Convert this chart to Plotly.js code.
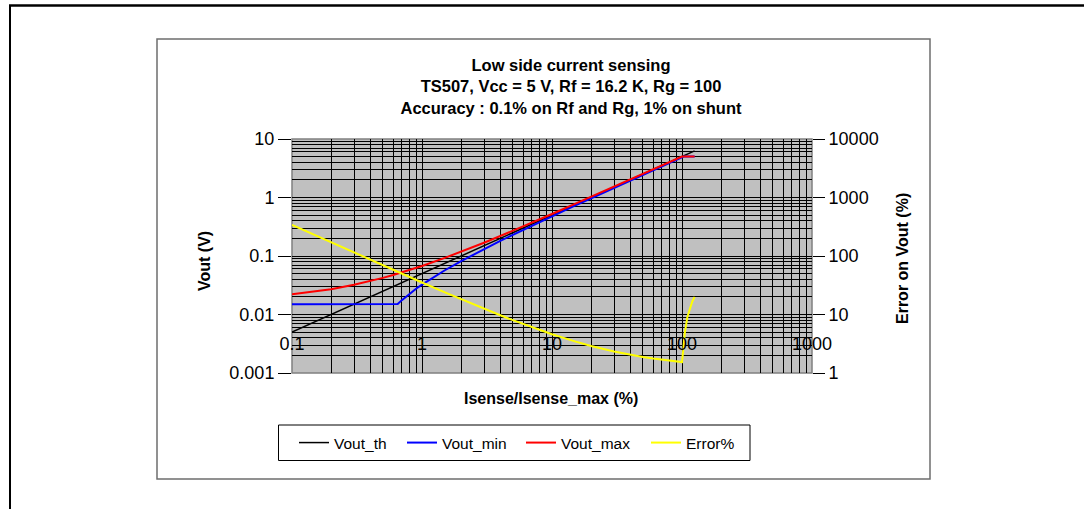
<!DOCTYPE html>
<html>
<head>
<meta charset="utf-8">
<script src="https://cdn.plot.ly/plotly-3.0.1.min.js"></script>
<style>
  html, body { margin: 0; padding: 0; background: #ffffff; }
  #chart { width: 1084px; height: 509px; }
</style>
</head>
<body>
<div id="chart"></div>
<script>
// Sense current as a percentage of full scale
const isense = [0.1, 0.2, 0.3, 0.4, 0.5, 0.6, 0.65, 0.7, 0.8, 0.9, 1, 1.5, 2, 3, 4, 5, 6, 7, 8, 9, 10,
                15, 20, 30, 40, 50, 60, 70, 80, 90, 100, 103, 105, 110, 115, 120, 125];

// Theoretical output voltage (V)
const voutTh = [0.005, 0.01, 0.015, 0.02, 0.025, 0.03, 0.0325, 0.035, 0.04, 0.045, 0.05, 0.075, 0.1, 0.15, 0.2, 0.25, 0.3, 0.35, 0.4, 0.45, 0.5,
                0.75, 1.0, 1.5, 2.0, 2.5, 3.0, 3.5, 4.0, 4.5, 5.0, 5.15, 5.25, 5.5, 5.75, 6.0, 6.25];

// Worst-case low output voltage (V)
const voutMin = [0.015, 0.015, 0.015, 0.015, 0.015, 0.015, 0.0151, 0.0176, 0.0225, 0.0275, 0.0324, 0.0571, 0.0818, 0.1312, 0.1806, 0.230, 0.2794, 0.3288, 0.3782, 0.4276, 0.477,
                 0.724, 0.971, 1.465, 1.959, 2.453, 2.947, 3.441, 3.935, 4.429, 4.923, 5.0, 5.0, 5.0, 5.0, 5.0, 5.0];

// Worst-case high output voltage (V)
const voutMax = [0.0221, 0.0271, 0.0322, 0.0372, 0.0423, 0.0474, 0.0499, 0.0524, 0.0575, 0.0625, 0.0676, 0.0929, 0.1182, 0.1688, 0.2194, 0.270, 0.3206, 0.3712, 0.4218, 0.4724, 0.523,
                 0.776, 1.029, 1.535, 2.041, 2.547, 3.053, 3.559, 4.065, 4.571, 5.0, 5.0, 5.0, 5.0, 5.0, 5.0, 5.0];

// Relative error on the output voltage (%)
const errorPct = [341, 171, 114.5, 86.2, 69.2, 57.9, 53.5, 49.8, 43.7, 39.0, 35.2, 23.9, 18.2, 12.5, 9.7, 8.0, 6.87, 6.06, 5.45, 4.98, 4.6,
                  3.47, 2.9, 2.33, 2.05, 1.88, 1.77, 1.69, 1.63, 1.58, 1.54, 2.91, 4.76, 9.09, 13.0, 16.7, 20.0];

const seriesNames = ['Vout_th', 'Vout_min', 'Vout_max', 'Error%'];

// Axis ticks
const xTickVals = [0.1, 1, 10, 100, 1000];
const xTickText = ['0.1', '1', '10', '100', '1000'];
const yTickVals = [0.001, 0.01, 0.1, 1, 10];
const yTickText = ['0.001', '0.01', '0.1', '1', '10'];
const y2TickVals = [1, 10, 100, 1000, 10000];
const y2TickText = ['1', '10', '100', '1000', '10000'];

const titleLines = ['Low side current sensing', 'TS507, Vcc = 5 V, Rf = 16.2 K, Rg = 100', 'Accuracy : 0.1% on Rf and Rg, 1% on shunt'];
const xTitle = 'Isense/Isense_max (%)';
const yTitle = 'Vout (V)';
const y2Title = 'Error on Vout (%)';

// ---- geometry (pixels) ----
const W = 1084, H = 509;
const M = { l: 292, r: 272, t: 139, b: 136 };
const plotW = W - M.l - M.r;
const plotH = H - M.t - M.b;
const px2x = px => (px - M.l) / plotW;
const px2y = py => (H - M.b - py) / plotH;

const FONT = 'Liberation Sans, Arial, Helvetica, sans-serif';

const traces = [
  { x: isense, y: voutTh, name: seriesNames[0], mode: 'lines', line: { color: '#000000', width: 1.5 }, legendwidth: 63 },
  { x: isense, y: voutMin, name: seriesNames[1], mode: 'lines', line: { color: '#0000ff', width: 2 }, legendwidth: 74 },
  { x: isense, y: voutMax, name: seriesNames[2], mode: 'lines', line: { color: '#ff0000', width: 2 }, legendwidth: 80 },
  { x: isense, y: errorPct, name: seriesNames[3], mode: 'lines', yaxis: 'y2', line: { color: '#ffff00', width: 2 }, legendwidth: 50 }
];

const gridStyle = { showgrid: true, gridcolor: '#000000', gridwidth: 1 };

const layout = {
  width: W, height: H,
  margin: { l: M.l, r: M.r, t: M.t, b: M.b, pad: 0 },
  paper_bgcolor: '#ffffff',
  plot_bgcolor: '#c0c0c0',
  font: { family: FONT, color: '#000000', size: 18 },
  showlegend: true,
  title: {
    text: titleLines.join('<br>'),
    font: { family: FONT, size: 16.5, weight: 'bold', color: '#000000' },
    xref: 'container', x: 571 / W, xanchor: 'center',
    yref: 'container', y: 1 - 71 / H, yanchor: 'top'
  },
  xaxis: {
    type: 'log', range: [-1, 3],
    tickmode: 'array', tickvals: xTickVals, ticktext: xTickText,
    ticks: '', showline: false, zeroline: false,
    anchor: 'free', position: px2y(331),
    tickfont: { size: 18, color: '#000000' },
    ...gridStyle,
    minor: { dtick: 'D1', ticks: '', showgrid: true, gridcolor: '#000000', gridwidth: 1 }
  },
  yaxis: {
    type: 'log', range: [-3, 1],
    tickmode: 'array', tickvals: yTickVals, ticktext: yTickText,
    ticks: 'outside', ticklen: 13, tickwidth: 1, tickcolor: '#000000',
    showline: false, zeroline: false,
    tickfont: { size: 18, color: '#000000' },
    ...gridStyle,
    minor: { dtick: 'D1', ticks: '', showgrid: true, gridcolor: '#000000', gridwidth: 1 }
  },
  yaxis2: {
    type: 'log', range: [0, 4], overlaying: 'y', side: 'right', anchor: 'x',
    tickmode: 'array', tickvals: y2TickVals, ticktext: y2TickText,
    ticks: 'outside', ticklen: 12, tickwidth: 1, tickcolor: '#000000',
    showline: false, zeroline: false, showgrid: false,
    tickfont: { size: 18, color: '#000000' }
  },
  legend: {
    orientation: 'h',
    xref: 'paper', x: px2x(294), xanchor: 'left',
    yref: 'paper', y: px2y(443), yanchor: 'middle',
    bgcolor: 'rgba(0,0,0,0)', borderwidth: 0,
    font: { family: FONT, size: 15.5, color: '#000000' },
    traceorder: 'normal'
  },
  annotations: [
    { text: xTitle, xref: 'paper', yref: 'paper', x: px2x(551), y: px2y(398), xanchor: 'center', yanchor: 'middle',
      showarrow: false, font: { family: FONT, size: 16, weight: 'bold', color: '#000000' } },
    { text: yTitle, xref: 'paper', yref: 'paper', x: px2x(204), y: px2y(261), xanchor: 'center', yanchor: 'middle',
      textangle: -90, showarrow: false, font: { family: FONT, size: 16, weight: 'bold', color: '#000000' } },
    { text: y2Title, xref: 'paper', yref: 'paper', x: px2x(902), y: px2y(259), xanchor: 'center', yanchor: 'middle',
      textangle: -90, showarrow: false, font: { family: FONT, size: 16, weight: 'bold', color: '#000000' } }
  ],
  shapes: [
    // plot area border
    { type: 'rect', xref: 'paper', yref: 'paper', x0: 0, x1: 1, y0: 0, y1: 1, layer: 'below',
      line: { color: '#808080', width: 1.5 } },
    // chart frame
    { type: 'rect', xref: 'paper', yref: 'paper', x0: px2x(157), x1: px2x(930), y0: px2y(39), y1: px2y(479),
      line: { color: '#6e6e6e', width: 1.5 } },
    // legend box
    { type: 'rect', xref: 'paper', yref: 'paper', x0: px2x(278.5), x1: px2x(750), y0: px2y(425), y1: px2y(460.5),
      line: { color: '#000000', width: 1 } },
    // page frame: top rule and left rule
    { type: 'line', xref: 'paper', yref: 'paper', x0: px2x(9), x1: px2x(1090), y0: px2y(5.5), y1: px2y(5.5),
      line: { color: '#000000', width: 2.5 } },
    { type: 'line', xref: 'paper', yref: 'paper', x0: px2x(10), x1: px2x(10), y0: px2y(5), y1: px2y(515),
      line: { color: '#000000', width: 2 } }
  ]
};

Plotly.newPlot('chart', traces, layout, { displayModeBar: false, staticPlot: true });
</script>
</body>
</html>
